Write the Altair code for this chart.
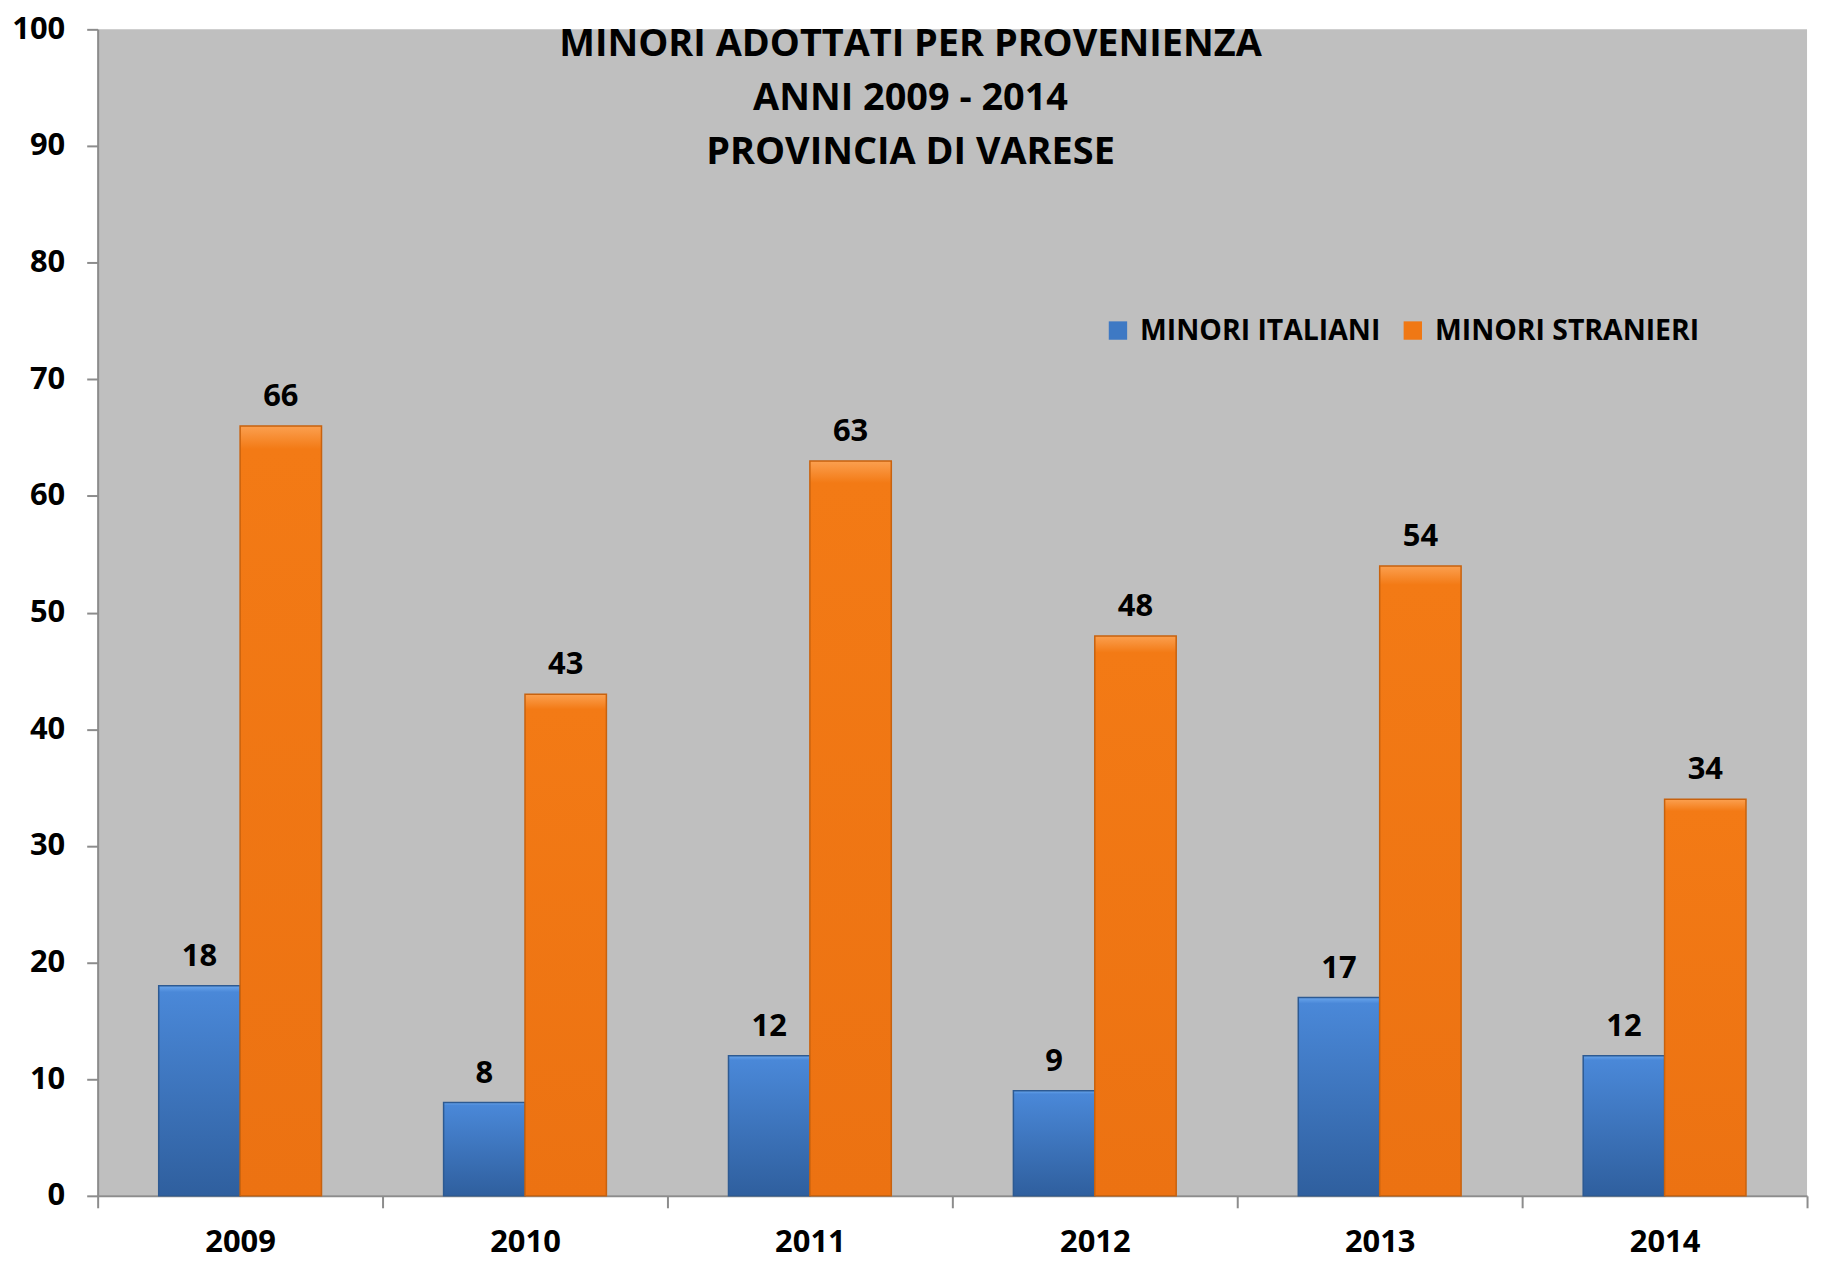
import altair as alt
import pandas as pd

years = ["2009", "2010", "2011", "2012", "2013", "2014"]
italiani = [18, 8, 12, 9, 17, 12]
stranieri = [66, 43, 63, 48, 54, 34]
series_names = ["MINORI ITALIANI", "MINORI STRANIERI"]
title_lines = ["MINORI ADOTTATI PER PROVENIENZA", "ANNI 2009 - 2014", "PROVINCIA DI VARESE"]

rows = []
for y, a, b in zip(years, italiani, stranieri):
    rows.append({"Anno": y, "Serie": series_names[0], "Valore": a})
    rows.append({"Anno": y, "Serie": series_names[1], "Valore": b})
df = pd.DataFrame(rows)

FONT = "Open Sans"

blue_grad = {"gradient": "linear", "x1": 0, "y1": 0, "x2": 0, "y2": 1,
             "stops": [{"offset": 0, "color": "#6AA6EC"}, {"offset": 0.03, "color": "#4A88D8"},
                       {"offset": 1, "color": "#2F5F9E"}]}
orange_grad = {"gradient": "linear", "x1": 0, "y1": 0, "x2": 0, "y2": 1,
               "stops": [{"offset": 0, "color": "#FBA050"}, {"offset": 0.03, "color": "#F37A15"},
                         {"offset": 1, "color": "#EC7212"}]}

x_enc = alt.X("Anno:N", sort=years, title=None,
              scale=alt.Scale(paddingInner=0, paddingOuter=0),
              axis=alt.Axis(labelAngle=0, tickBand="extent", tickSize=12, labelPadding=20,
                            labelFont=FONT, labelFontSize=31, labelFontWeight="bold",
                            labelColor="#000000", domainColor="#8C8C8C", tickColor="#8C8C8C",
                            domainWidth=2, tickWidth=2, grid=False))
xoff = alt.XOffset("Serie:N", sort=series_names,
                   scale=alt.Scale(paddingInner=0, paddingOuter=0.75))
y_enc = alt.Y("Valore:Q", title=None,
              scale=alt.Scale(domain=[0, 100], nice=False),
              axis=alt.Axis(values=list(range(0, 101, 10)), tickSize=11, labelPadding=22,
                            labelFont=FONT, labelFontSize=31, labelFontWeight="bold",
                            labelColor="#000000", domainColor="#8C8C8C", tickColor="#8C8C8C",
                            domainWidth=2, tickWidth=2, grid=False))

base = alt.Chart(df).encode(x=x_enc, xOffset=xoff, y=y_enc)

bars = base.mark_bar().encode(
    color=alt.Color("Serie:N", sort=series_names,
                    scale=alt.Scale(domain=series_names, range=["#3E79C4", "#F07814"]),
                    legend=alt.Legend(title=None, orient="none", direction="horizontal",
                                      legendX=1010, legendY=288, symbolType="square",
                                      symbolSize=340, symbolStrokeWidth=0,
                                      labelFont=FONT, labelFontSize=28.5, labelFontWeight="bold",
                                      labelColor="#000000", columnPadding=18, labelOffset=8,
                                      labelLimit=0, padding=0))
)

grad_bars = base.mark_bar(strokeWidth=1.5).encode(
    fill=alt.condition(alt.datum.Serie == series_names[0], alt.value(blue_grad), alt.value(orange_grad)),
    stroke=alt.condition(alt.datum.Serie == series_names[0], alt.value("#2D5A92"), alt.value("#C8620E")),
)

labels = base.mark_text(baseline="alphabetic", dy=-20, font=FONT, fontSize=31,
                        fontWeight="bold", color="#000000").encode(text="Valore:Q")

chart = alt.layer(bars, grad_bars, labels).properties(
    width=1716, height=1171,
    background="#FFFFFF",
    title=alt.TitleParams(text=title_lines, font=FONT, fontSize=38, fontWeight="bold",
                          color="#000000", anchor="middle", lineHeight=54,
                          orient="top", frame="group", baseline="top", offset=-159, dx=-42),
    autosize=alt.AutoSizeParams(type="none"),
    padding={"left": 90, "top": 19, "right": 10, "bottom": 64},
).configure_view(fill="#BFBFBF", stroke=None)

chart.save("out.html", embed_options={"renderer": "svg", "actions": False})
